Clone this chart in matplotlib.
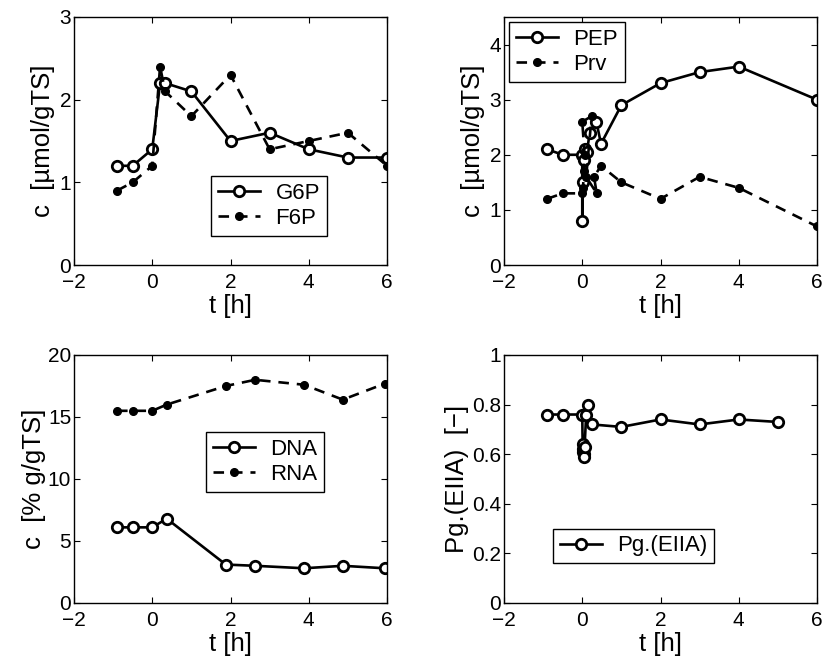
import matplotlib
matplotlib.use("Agg")
import matplotlib.pyplot as plt

plt.rcParams['font.family'] = ['Liberation Sans', 'DejaVu Sans']
plt.rcParams['axes.unicode_minus'] = True

# ---- data ----
g6p_t = [-0.9, -0.5, 0.0, 0.2, 0.33, 1.0, 2.0, 3.0, 4.0, 5.0, 6.0]
g6p_c = [1.2, 1.2, 1.4, 2.2, 2.2, 2.1, 1.5, 1.6, 1.4, 1.3, 1.3]
f6p_t = [-0.9, -0.5, 0.0, 0.2, 0.33, 1.0, 2.0, 3.0, 4.0, 5.0, 6.0]
f6p_c = [0.9, 1.0, 1.2, 2.4, 2.1, 1.8, 2.3, 1.4, 1.5, 1.6, 1.2]

pep_t = [-0.9, -0.5, 0.0, 0.0, 0.02, 0.05, 0.08, 0.12, 0.19, 0.36, 0.48, 1.0, 2.0, 3.0, 4.0, 6.0]
pep_c = [2.1, 2.0, 2.0, 0.8, 1.5, 1.9, 2.1, 2.05, 2.4, 2.6, 2.2, 2.9, 3.3, 3.5, 3.6, 3.0]
prv_t = [-0.9, -0.5, 0.0, 0.02, 0.04, 0.06, 0.0, 0.24, 0.1, 0.37, 0.3, 0.48, 1.0, 2.0, 3.0, 4.0, 6.0]
prv_c = [1.2, 1.3, 1.3, 1.4, 1.7, 2.0, 2.6, 2.7, 1.6, 1.3, 1.6, 1.8, 1.5, 1.2, 1.6, 1.4, 0.7]

dna_t = [-0.9, -0.5, 0.0, 0.37, 1.88, 2.63, 3.88, 4.87, 5.95]
dna_c = [6.1, 6.1, 6.1, 6.8, 3.1, 3.0, 2.8, 3.0, 2.8]
rna_t = [-0.9, -0.5, 0.0, 0.37, 1.88, 2.63, 3.88, 4.87, 5.95]
rna_c = [15.5, 15.5, 15.5, 16.0, 17.5, 18.0, 17.6, 16.4, 17.7]

pg_t = [-0.9, -0.5, 0.0, 0.01, 0.02, 0.03, 0.04, 0.05, 0.06, 0.1, 0.14, 0.25, 1.0, 2.0, 3.0, 4.0, 5.0]
pg_v = [0.76, 0.76, 0.76, 0.64, 0.62, 0.61, 0.60, 0.59, 0.63, 0.76, 0.80, 0.72, 0.71, 0.74, 0.72, 0.74, 0.73]

xticks = [-2, 0, 2, 4, 6]

# ---- figure ----
W, H = 823, 666
fig = plt.figure(figsize=(W / 100, H / 100), dpi=100)

def px_axes(l, t, r, b):
    return fig.add_axes([l / W, 1 - b / H, (r - l) / W, (b - t) / H])

ax1 = px_axes(74, 17, 387, 265)
ax2 = px_axes(504, 17, 817, 265)
ax3 = px_axes(74, 355, 387, 603)
ax4 = px_axes(504, 355, 817, 603)

TFS = 15   # tick labels
LFS = 18.5 # axis labels
GFS = 16   # legend
solid = dict(color='black', lw=1.9, marker='o', ms=7.5, mfc='white', mec='black', mew=2.0)
dash = dict(color='black', lw=1.9, ls=(0, (4, 3)), marker='o', ms=5.5, mfc='black', mec='black')

ax1.plot(g6p_t, g6p_c, label='G6P', **solid)
ax1.plot(f6p_t, f6p_c, label='F6P', **dash)
ax2.plot(pep_t, pep_c, label='PEP', **solid)
ax2.plot(prv_t, prv_c, label='Prv', **dash)
ax3.plot(dna_t, dna_c, label='DNA', **solid)
ax3.plot(rna_t, rna_c, label='RNA', **dash)
ax4.plot(pg_t, pg_v, label='Pg.(EIIA)', **solid)

ax1.set_ylim(0, 3); ax1.set_yticks([0, 1, 2, 3])
ax2.set_ylim(0, 4.5); ax2.set_yticks([0, 1, 2, 3, 4])
ax3.set_ylim(0, 20); ax3.set_yticks([0, 5, 10, 15, 20])
ax4.set_ylim(0, 1); ax4.set_yticks([0, 0.2, 0.4, 0.6, 0.8, 1.0])
ax4.set_yticklabels(['0', '0.2', '0.4', '0.6', '0.8', '1'])

ax1.set_ylabel('c  [µmol/gTS]', fontsize=LFS)
ax2.set_ylabel('c  [µmol/gTS]', fontsize=LFS)
ax3.set_ylabel('c  [% g/gTS]', fontsize=LFS)
ax4.set_ylabel('Pg.(EIIA)  [−]', fontsize=LFS)

for ax in (ax1, ax2, ax3, ax4):
    ax.set_xlim(-2, 6)
    ax.set_xticks(xticks)
    ax.set_xlabel('t [h]', fontsize=LFS)
    ax.tick_params(direction='in', top=True, right=True, length=4, width=0.8,
                   labelsize=TFS)
    ax.tick_params(axis='y', pad=2)
    ax.tick_params(axis='x', pad=6)
    for s in ax.spines.values():
        s.set_linewidth(1.0)
    ax.xaxis.set_label_coords(0.5, -0.117)

ax1.yaxis.set_label_coords(-0.060, 0.5)
ax2.yaxis.set_label_coords(-0.060, 0.5)
ax3.yaxis.set_label_coords(-0.088, 0.5)
ax4.yaxis.set_label_coords(-0.112, 0.5)

leg_kw = dict(fontsize=GFS, frameon=True, fancybox=False, edgecolor='black',
              framealpha=1, borderpad=0.3, handlelength=1.9, labelspacing=0.2,
              handletextpad=0.7, borderaxespad=0, bbox_transform=fig.transFigure)

l1 = ax1.legend(loc='upper left', bbox_to_anchor=(211 / W, 1 - 176 / H), **leg_kw)
l2 = ax2.legend(loc='upper left', bbox_to_anchor=(509 / W, 1 - 22 / H), **leg_kw)
l3 = ax3.legend(loc='upper left', bbox_to_anchor=(206 / W, 1 - 432 / H), **leg_kw)
l4 = ax4.legend(loc='lower left', bbox_to_anchor=(553 / W, 1 - 563 / H), **leg_kw)
for l in (l1, l2, l3, l4):
    l.get_frame().set_linewidth(1.0)

fig.savefig('out.png', dpi=100)
